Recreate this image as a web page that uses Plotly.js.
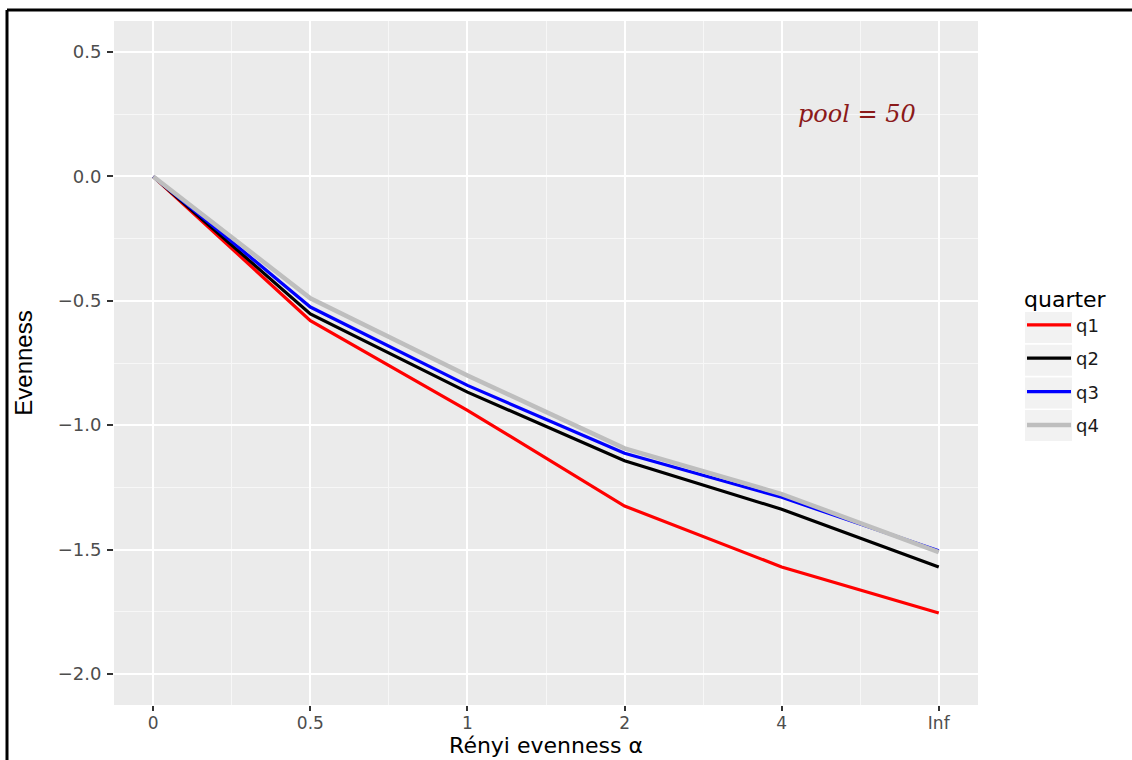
<!DOCTYPE html>
<html>
<head>
<meta charset="utf-8">
<script src="https://cdn.plot.ly/plotly-3.0.1.min.js"></script>
<style>
  html, body { margin: 0; padding: 0; background: #ffffff; }
  #chart { width: 1132px; height: 760px; }
</style>
</head>
<body>
<div id="chart"></div>
<script>
// ---- data ----
const alphaLabels = ['0', '0.5', '1', '2', '4', 'Inf'];
const seriesNames = ['q1', 'q2', 'q3', 'q4'];
const q1 = [0, -0.58, -0.94, -1.325, -1.57, -1.755];
const q2 = [0, -0.553, -0.867, -1.143, -1.338, -1.57];
const q3 = [0, -0.525, -0.84, -1.113, -1.29, -1.505];
const q4 = [0, -0.49, -0.80, -1.093, -1.277, -1.51];
const yTicks = [0.5, 0.0, -0.5, -1.0, -1.5, -2.0];
const annotationText = 'pool = 50';

// ---- styling ----
const colors = ['#FF0000', '#000000', '#0000FF', '#BEBEBE'];
const xPos = alphaLabels.map((_, i) => i);
const allSeries = [q1, q2, q3, q4];

const traces = allSeries.map((ys, k) => ({
  type: 'scatter',
  mode: 'lines',
  x: xPos,
  y: ys,
  name: seriesNames[k],
  legendgroup: seriesNames[k],
  line: { color: colors[k], width: k === 3 ? 4.5 : 3.2 },
  hoverinfo: 'x+y+name'
}));

// legend key background boxes (ggplot style) – in paper coordinates
const plotW = 1132 - 114 - 154;
const plotH = 760 - 21 - 55;
const px2x = p => (p - 114) / plotW;
const px2y = p => (705 - p) / plotH;
const keyShapes = [0, 1, 2, 3].map(i => ({
  type: 'rect', xref: 'paper', yref: 'paper', layer: 'above',
  x0: px2x(1025), x1: px2x(1072),
  y0: px2y(312 + i * 32.7 + 31), y1: px2y(312 + i * 32.7),
  fillcolor: '#F2F2F2', line: { width: 0 }
}));

const frameShapes = [
  { type: 'line', xref: 'paper', yref: 'paper', x0: px2x(7), x1: px2x(1132), y0: px2y(10), y1: px2y(10), line: { color: '#000', width: 3 } },
  { type: 'line', xref: 'paper', yref: 'paper', x0: px2x(7), x1: px2x(7), y0: px2y(10), y1: px2y(760), line: { color: '#000', width: 3 } }
];

const layout = {
  width: 1132,
  height: 760,
  margin: { l: 114, r: 154, t: 21, b: 55, pad: 0 },
  paper_bgcolor: '#FFFFFF',
  plot_bgcolor: '#EBEBEB',
  font: { family: 'DejaVu Sans, Arial, sans-serif', color: '#4D4D4D' },
  showlegend: true,
  xaxis: {
    type: 'linear',
    range: [-0.25, 5.25],
    tickmode: 'array',
    tickvals: xPos,
    ticktext: alphaLabels,
    showgrid: true,
    gridcolor: '#FFFFFF',
    gridwidth: 2,
    minor: { tickmode: 'array', tickvals: [0.5, 1.5, 2.5, 3.5, 4.5], showgrid: true, gridcolor: '#F7F7F7', gridwidth: 1.2, ticks: '' },
    zeroline: false,
    showline: false,
    ticks: 'outside',
    ticklen: 5,
    tickwidth: 2,
    tickcolor: '#333333',
    ticklabelstandoff: -2,
    tickfont: { family: 'DejaVu Sans, Arial, sans-serif', size: 17, color: '#4D4D4D' },
    title: { text: 'Rényi evenness α', font: { family: 'DejaVu Sans, Arial, sans-serif', size: 22, color: '#000000' }, standoff: 1 },
    automargin: false
  },
  yaxis: {
    range: [-2.125, 0.625],
    tickmode: 'array',
    tickvals: yTicks,
    tickformat: '.1f',
    showgrid: true,
    gridcolor: '#FFFFFF',
    gridwidth: 2,
    minor: { dtick: 0.25, showgrid: true, gridcolor: '#F7F7F7', gridwidth: 1.2, ticks: '' },
    zeroline: false,
    showline: false,
    ticks: 'outside',
    ticklen: 6,
    tickwidth: 2,
    tickcolor: '#333333',
    ticklabelstandoff: 2,
    tickfont: { family: 'DejaVu Sans, Arial, sans-serif', size: 18, color: '#4D4D4D' },
    title: { text: 'Evenness', font: { family: 'Liberation Sans Narrow, Arial Narrow, Liberation Sans, sans-serif', size: 24, color: '#000000' }, standoff: 18 },
    automargin: false
  },
  legend: {
    x: px2x(1022),
    xanchor: 'left',
    y: px2y(278),
    yanchor: 'top',
    bgcolor: 'rgba(0,0,0,0)',
    borderwidth: 0,
    tracegroupgap: 7,
    itemwidth: 44,
    font: { family: 'DejaVu Sans, Arial, sans-serif', size: 18, color: '#1A1A1A' },
    title: { text: 'quarter', font: { family: 'DejaVu Sans, Arial, sans-serif', size: 22, color: '#000000' } }
  },
  shapes: keyShapes.concat(frameShapes),
  annotations: [{
    x: 4.48, y: 0.25, xref: 'x', yref: 'y',
    text: annotationText,
    showarrow: false,
    font: { family: 'DejaVu Serif, Liberation Serif, serif', size: 24, color: '#8B1A1A', style: 'italic' }
  }]
};

Plotly.newPlot('chart', traces, layout, { displayModeBar: false, staticPlot: false });
</script>
</body>
</html>
